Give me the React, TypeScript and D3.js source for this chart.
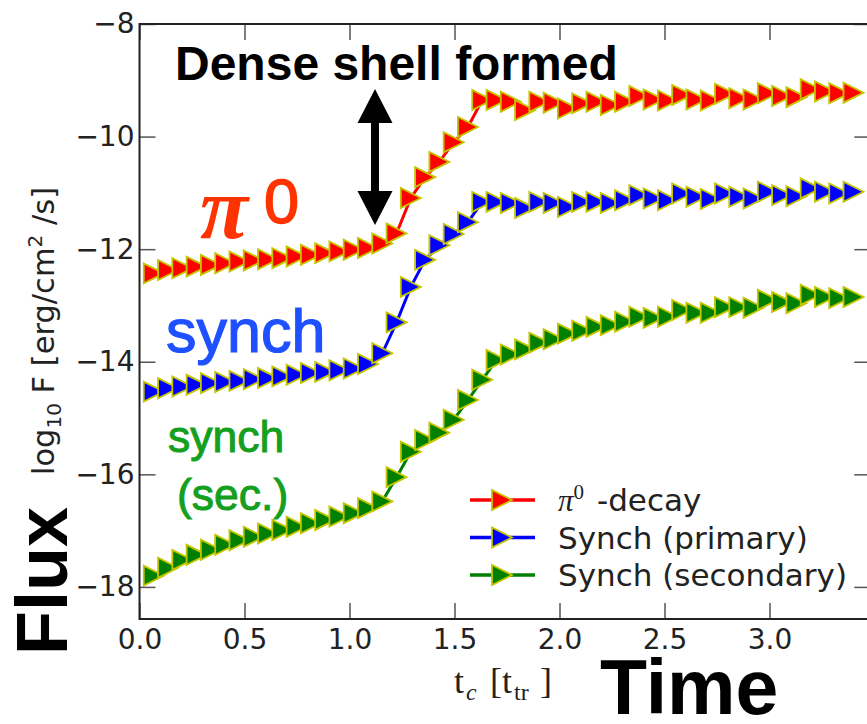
import React, { useEffect, useRef } from 'react'
import * as d3 from 'd3'

// time in units of t_tr
const times = [
  0.068, 0.136, 0.204, 0.272, 0.340, 0.408, 0.476, 0.544, 0.612, 0.680,
  0.748, 0.816, 0.884, 0.952, 1.020, 1.088, 1.156, 1.224, 1.292, 1.360,
  1.428, 1.496, 1.564, 1.632, 1.700, 1.768, 1.836, 1.904, 1.972, 2.040,
  2.108, 2.176, 2.244, 2.312, 2.380, 2.448, 2.516, 2.584, 2.652, 2.720,
  2.788, 2.856, 2.924, 2.992, 3.060, 3.128, 3.196, 3.264, 3.332, 3.400,
]

// log10 F [erg/cm^2/s]
const pionDecay = [
  -12.43, -12.37, -12.34, -12.31, -12.28, -12.25, -12.22, -12.20, -12.18, -12.16,
  -12.13, -12.10, -12.07, -12.04, -12.01, -11.98, -11.90, -11.72, -11.09, -10.72,
  -10.45, -10.10, -9.83, -9.35, -9.35, -9.38, -9.53, -9.38, -9.40, -9.50,
  -9.41, -9.38, -9.44, -9.38, -9.28, -9.34, -9.36, -9.26, -9.34, -9.36,
  -9.24, -9.32, -9.34, -9.23, -9.28, -9.30, -9.16, -9.20, -9.23, -9.22,
]
const synchPrimary = [
  -14.53, -14.47, -14.44, -14.41, -14.38, -14.36, -14.34, -14.31, -14.29, -14.26,
  -14.23, -14.20, -14.18, -14.15, -14.12, -14.04, -13.85, -13.30, -12.67, -12.19,
  -11.93, -11.73, -11.52, -11.16, -11.16, -11.18, -11.27, -11.16, -11.18, -11.25,
  -11.16, -11.16, -11.18, -11.13, -11.04, -11.10, -11.13, -11.01, -11.07, -11.11,
  -11.01, -11.07, -11.10, -10.98, -11.04, -11.06, -10.92, -10.98, -11.01, -10.98,
]
const synchSecondary = [
  -17.80, -17.66, -17.52, -17.43, -17.34, -17.25, -17.17, -17.11, -17.05, -16.99,
  -16.93, -16.87, -16.81, -16.75, -16.69, -16.60, -16.48, -16.05, -15.60, -15.39,
  -15.26, -15.03, -14.68, -14.32, -13.97, -13.87, -13.78, -13.66, -13.60, -13.50,
  -13.45, -13.38, -13.35, -13.29, -13.20, -13.22, -13.20, -13.08, -13.13, -13.13,
  -13.03, -13.03, -13.04, -12.90, -12.94, -12.96, -12.81, -12.85, -12.87, -12.85,
]

const xTicks = [0, 0.5, 1.0, 1.5, 2.0, 2.5, 3.0]
const yTicks = [-8, -10, -12, -14, -16, -18]
const seriesLabels = ['-decay', 'Synch (primary)', 'Synch (secondary)']
const seriesColors = ['#ff0000', '#0000ff', '#008000']

const App = () => {
  const ref = useRef(null)

  useEffect(() => {
    const svg = d3.select(ref.current)
    svg.selectAll('*').remove()

    const left = 139.5, right = 870.3, top = 24, bottom = 619
    const x = d3.scaleLinear().domain([0, 3.48]).range([left, right])
    const y = d3.scaleLinear().domain([-18.57, -8]).range([bottom, top])

    const series = [pionDecay, synchPrimary, synchSecondary]
    const line = d3.line<number>().x((d, i) => x(times[i])).y(d => y(d))
    const tri = 'M10,0L-10,10L-10,-10Z'

    series.forEach((vals, k) => {
      svg.append('path')
        .attr('d', line(vals))
        .attr('fill', 'none')
        .attr('stroke', seriesColors[k])
        .attr('stroke-width', 3)
      svg.append('g').selectAll('path')
        .data(vals)
        .enter()
        .append('path')
        .attr('d', tri)
        .attr('transform', (d, i) => `translate(${x(times[i])},${y(d)})`)
        .attr('fill', seriesColors[k])
        .attr('stroke', '#c4c400')
        .attr('stroke-width', 1.8)
    })

    // axes, ticks pointing inwards
    const tickFont = (g) => g.selectAll('text')
      .style('font-family', 'DejaVu Sans')
      .style('font-size', '28px')
      .attr('fill', '#222')
    const tickLine = (g) => {
      g.select('.domain').remove()
      g.selectAll('line').attr('stroke', '#555').attr('stroke-width', 1.5)
    }
    svg.append('g').attr('transform', `translate(0,${bottom})`)
      .call(d3.axisBottom(x).tickValues(xTicks).tickSize(-16).tickPadding(10).tickFormat(d3.format('.1f')))
      .call(tickLine).call(tickFont)
    svg.append('g').attr('transform', `translate(0,${top})`)
      .call(d3.axisTop(x).tickValues(xTicks).tickSize(-16).tickFormat(() => ''))
      .call(tickLine)
    svg.append('g').attr('transform', `translate(${left},0)`)
      .call(d3.axisLeft(y).tickValues(yTicks).tickSize(-16).tickPadding(5).tickFormat(d3.format('d')))
      .call(tickLine).call(tickFont)
    svg.append('g').attr('transform', `translate(${right},0)`)
      .call(d3.axisRight(y).tickValues(yTicks).tickSize(-16).tickFormat(() => ''))
      .call(tickLine)

    svg.append('rect')
      .attr('x', left).attr('y', top)
      .attr('width', right - left).attr('height', bottom - top)
      .attr('fill', 'none').attr('stroke', '#222').attr('stroke-width', 2)

    // legend
    const lg = svg.append('g')
    seriesColors.forEach((c, k) => {
      const ly = 500 + k * 37.5
      lg.append('line').attr('x1', 470).attr('x2', 535).attr('y1', ly).attr('y2', ly)
        .attr('stroke', c).attr('stroke-width', 3.5)
      lg.append('path').attr('d', tri).attr('transform', `translate(502,${ly})`)
        .attr('fill', c).attr('stroke', '#c4c400').attr('stroke-width', 1.8)
      const t = lg.append('text').attr('x', 558).attr('y', ly + 11)
        .style('font-family', 'DejaVu Sans').style('font-size', '31px').attr('fill', '#222')
      if (k === 0) {
        t.append('tspan').style('font-family', 'Liberation Serif').style('font-style', 'italic').text('π')
        t.append('tspan').attr('dy', -12).style('font-family', 'Liberation Serif').style('font-size', '21px').text('0')
        t.append('tspan').attr('dy', 12).attr('x', 597).text(seriesLabels[k])
      } else {
        t.text(seriesLabels[k])
      }
    })

    // axis labels
    const yl = svg.append('text')
      .attr('transform', 'translate(54,331) rotate(-90)')
      .attr('text-anchor', 'middle')
      .style('font-family', 'DejaVu Sans').style('font-size', '30.5px').attr('fill', '#222')
    yl.append('tspan').text('log')
    yl.append('tspan').attr('dy', 7).style('font-size', '20px').text('10')
    yl.append('tspan').attr('dy', -7).text(' F [erg/cm')
    yl.append('tspan').attr('dy', -12).style('font-size', '20px').text('2')
    yl.append('tspan').attr('dy', 12).text(' /s]')

    const xl = svg.append('text').attr('y', 693)
      .style('font-family', 'Liberation Serif').style('font-size', '36px').attr('fill', '#222')
    xl.append('tspan').attr('x', 454).text('t')
    xl.append('tspan').attr('x', 466).attr('dy', 7).style('font-size', '24px').style('font-style', 'italic').text('c')
    xl.append('tspan').attr('x', 490).attr('dy', -7).text('[t')
    xl.append('tspan').attr('x', 514).attr('dy', 7).style('font-size', '24px').text('tr')
    xl.append('tspan').attr('x', 540).attr('dy', -7).text(']')

    // annotations
    svg.append('text').attr('x', 175).attr('y', 80)
      .style('font-family', 'Liberation Sans').style('font-weight', 'bold').style('font-size', '48px')
      .text('Dense shell formed')
    svg.append('path')
      .attr('d', 'M375,89L392.5,123L379,123L379,191L392.5,191L375,225L357.5,191L371,191L371,123L357.5,123Z')
      .attr('fill', '#000')

    svg.append('text').attr('x', 200).attr('y', 238)
      .style('font-family', 'Liberation Serif').style('font-weight', 'bold').style('font-style', 'italic')
      .style('font-size', '88px').attr('fill', '#ff3300').text('π')
    svg.append('text').attr('x', 264).attr('y', 223)
      .style('font-family', 'Liberation Sans').style('font-size', '63px')
      .attr('fill', '#ff3300').attr('stroke', '#ff3300').attr('stroke-width', 1.5).text('0')

    svg.append('text').attr('x', 166).attr('y', 352)
      .style('font-family', 'Liberation Sans').style('font-size', '61px')
      .attr('fill', '#1e50ff').attr('stroke', '#1e50ff').attr('stroke-width', 1.2)
      .text('synch')
    svg.append('text').attr('x', 168).attr('y', 452)
      .style('font-family', 'Liberation Sans').style('font-size', '44.5px')
      .attr('fill', '#14a01e').attr('stroke', '#14a01e').attr('stroke-width', 1)
      .text('synch')
    svg.append('text').attr('x', 177).attr('y', 510)
      .style('font-family', 'Liberation Sans').style('font-size', '44.5px')
      .attr('fill', '#14a01e').attr('stroke', '#14a01e').attr('stroke-width', 1)
      .text('(sec.)')

    svg.append('text').attr('x', 600).attr('y', 714)
      .style('font-family', 'Liberation Sans').style('font-weight', 'bold').style('font-size', '77px')
      .text('Time')
    svg.append('text')
      .attr('transform', 'translate(67,581) rotate(-90)')
      .attr('text-anchor', 'middle')
      .style('font-family', 'Liberation Sans').style('font-weight', 'bold').style('font-size', '72px')
      .text('Flux')
  }, [])

  return (
    <svg ref={ref} width={867} height={724} style={{ position: 'absolute', left: 0, top: 0, background: '#fff' }} />
  )
}

export default App
